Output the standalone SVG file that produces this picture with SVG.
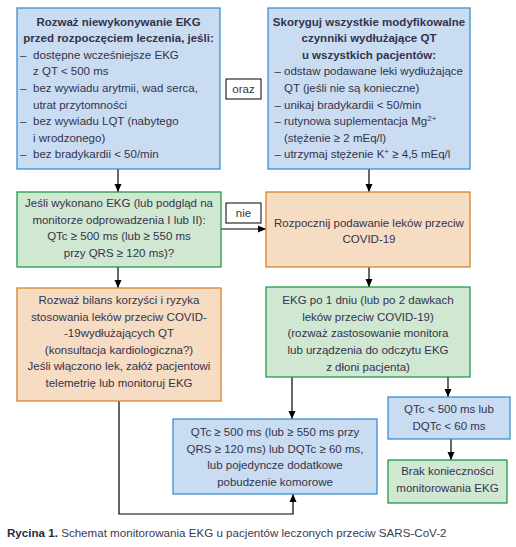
<svg xmlns="http://www.w3.org/2000/svg" width="516" height="547" viewBox="0 0 516 547">
<style>
text{font-family:"Liberation Sans",Arial,sans-serif;font-size:11.5px;fill:#35334a}
.c{text-anchor:middle}
.b{font-weight:bold}
.blue{fill:#c9dcf2;stroke:#3a8fd4;stroke-width:1.3}
.green{fill:#d0e7d2;stroke:#1f9a4a;stroke-width:1.3}
.orange{fill:#f5dcc2;stroke:#d8832c;stroke-width:1.3}
.lbl{fill:#fff;stroke:#000;stroke-width:1}
.con{fill:none;stroke:#000;stroke-width:1.2}
.cap{font-size:11.6px;fill:#3a3a50}
</style>
<defs>
<marker id="ah" markerUnits="userSpaceOnUse" markerWidth="8" markerHeight="8" viewBox="0 0 8 8" refX="8" refY="4" orient="auto">
<path d="M0,0.5 L8,4 L0,7.5 Z" fill="#000"/>
</marker>
</defs>
<rect width="516" height="547" fill="#fff"/>
<g id="connectors">
<line class="con" x1="118" y1="169" x2="118" y2="192" marker-end="url(#ah)"/>
<line class="con" x1="369" y1="169" x2="369" y2="192" marker-end="url(#ah)"/>
<line class="con" x1="221" y1="229" x2="266" y2="229" marker-end="url(#ah)"/>
<line class="con" x1="118" y1="267" x2="118" y2="288" marker-end="url(#ah)"/>
<line class="con" x1="369" y1="267" x2="369" y2="287" marker-end="url(#ah)"/>
<line class="con" x1="292" y1="377" x2="292" y2="419" marker-end="url(#ah)"/>
<line class="con" x1="448" y1="377" x2="448" y2="397" marker-end="url(#ah)"/>
<line class="con" x1="451" y1="439" x2="451" y2="460" marker-end="url(#ah)"/>
<polyline class="con" points="119,401 119,514 293,514 293,494" marker-end="url(#ah)"/>
</g>
<g id="oraz">
<rect class="lbl" x="226" y="79" width="35" height="20"/>
<text class="c" x="243.5" y="93">oraz</text>
</g>
<g id="nie">
<rect class="lbl" x="226" y="203" width="35" height="20"/>
<text class="c" x="243.5" y="217">nie</text>
</g>
<g id="n1">
<rect class="blue" x="17" y="8" width="203" height="161"/>
<text class="c b" x="118.5" y="25.5">Rozważ niewykonywanie EKG</text>
<text class="c b" x="118.5" y="42.1">przed rozpoczęciem leczenia, jeśli:</text>
<text x="20" y="58.7">–</text><text x="33" y="58.7">dostępne wcześniejsze EKG</text>
<text x="33" y="75.3">z QT &lt; 500 ms</text>
<text x="20" y="91.9">–</text><text x="33" y="91.9">bez wywiadu arytmii, wad serca,</text>
<text x="33" y="108.5">utrat przytomności</text>
<text x="20" y="125.1">–</text><text x="33" y="125.1">bez wywiadu LQT (nabytego</text>
<text x="33" y="141.7">i wrodzonego)</text>
<text x="20" y="158.3">–</text><text x="33" y="158.3">bez bradykardii &lt; 50/min</text>
</g>
<g id="n2">
<rect class="blue" x="268" y="8" width="202" height="161"/>
<text class="c b" x="369" y="25.5">Skoryguj wszystkie modyfikowalne</text>
<text class="c b" x="369" y="42.1">czynniki wydłużające QT</text>
<text class="c b" x="369" y="58.7">u wszystkich pacjentów:</text>
<text x="274.5" y="75.3">–</text><text x="284" y="75.3">odstaw podawane leki wydłużające</text>
<text x="284" y="91.9">QT (jeśli nie są konieczne)</text>
<text x="274.5" y="108.5">–</text><text x="284" y="108.5">unikaj bradykardii &lt; 50/min</text>
<text x="274.5" y="125.1">–</text><text x="284" y="125.1">rutynowa suplementacja Mg<tspan font-size="8" dy="-4.5">2+</tspan></text>
<text x="284" y="141.7">(stężenie ≥ 2 mEq/l)</text>
<text x="274.5" y="158.3">–</text><text x="284" y="158.3">utrzymaj stężenie K<tspan font-size="8" dy="-4.5">+</tspan><tspan dy="4.5"> ≥ 4,5 mEq/l</tspan></text>
</g>
<g id="n3">
<rect class="green" x="17" y="192" width="204" height="75"/>
<text class="c" x="119" y="207">Jeśli wykonano EKG (lub podgląd na</text>
<text class="c" x="119" y="223.5">monitorze odprowadzenia I lub II):</text>
<text class="c" x="119" y="240">QTc ≥ 500 ms (lub ≥ 550 ms</text>
<text class="c" x="119" y="256.5">przy QRS ≥ 120 ms)?</text>
</g>
<g id="n4">
<rect class="orange" x="266" y="192" width="204" height="75"/>
<text class="c" x="369" y="227">Rozpocznij podawanie leków przeciw</text>
<text class="c" x="369" y="243">COVID-19</text>
</g>
<g id="n5">
<rect class="orange" x="17" y="288" width="204" height="113"/>
<text class="c" x="119" y="304">Rozważ bilans korzyści i ryzyka</text>
<text class="c" x="119" y="320.6">stosowania leków przeciw COVID-</text>
<text class="c" x="119" y="337.2">-19wydłużających QT</text>
<text class="c" x="119" y="353.8">(konsultacja kardiologiczna?)</text>
<text class="c" x="119" y="370.4">Jeśli włączono lek, załóż pacjentowi</text>
<text class="c" x="119" y="387">telemetrię lub monitoruj EKG</text>
</g>
<g id="n6">
<rect class="green" x="266" y="287" width="204" height="90"/>
<text class="c" x="368" y="304">EKG po 1 dniu (lub po 2 dawkach</text>
<text class="c" x="368" y="320.5">leków przeciw COVID-19)</text>
<text class="c" x="368" y="337">(rozważ zastosowanie monitora</text>
<text class="c" x="368" y="354">lub urządzenia do odczytu EKG</text>
<text class="c" x="368" y="371">z dłoni pacjenta)</text>
</g>
<g id="n7">
<rect class="blue" x="388" y="397" width="122" height="42"/>
<text class="c" x="449" y="412.5">QTc &lt; 500 ms lub</text>
<text class="c" x="449" y="429.5">DQTc &lt; 60 ms</text>
</g>
<g id="n8">
<rect class="green" x="388" y="460" width="119" height="43"/>
<text class="c" x="447.5" y="475">Brak konieczności</text>
<text class="c" x="447.5" y="492">monitorowania EKG</text>
</g>
<g id="n9">
<rect class="blue" x="173" y="419" width="204" height="75"/>
<text class="c" x="275" y="436">QTc ≥ 500 ms (lub ≥ 550 ms przy</text>
<text class="c" x="275" y="452.5">QRS ≥ 120 ms) lub DQTc ≥ 60 ms,</text>
<text class="c" x="275" y="469">lub pojedyncze dodatkowe</text>
<text class="c" x="275" y="485.5">pobudzenie komorowe</text>
</g>
<text class="cap" x="7" y="537"><tspan class="b" fill="#2a2a3a">Rycina 1.</tspan> Schemat monitorowania EKG u pacjentów leczonych przeciw SARS-CoV-2</text>
</svg>
